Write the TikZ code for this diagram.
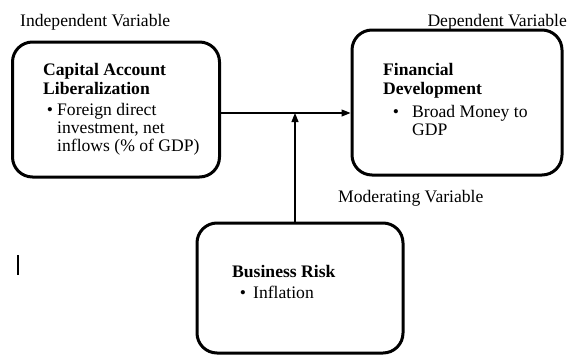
\documentclass[tikz,border=0pt]{standalone}
\usepackage{fontspec}
\setmainfont{Liberation Serif}
\usetikzlibrary{arrows.meta}
\begin{document}
\begin{tikzpicture}[x=1pt,y=-1pt,
  box/.style={draw,line width=3pt,rounded corners=20pt,inner sep=0pt},
  txt/.style={anchor=base west,inner sep=0pt,font=\fontsize{17.6}{18}\selectfont},
  btxt/.style={txt,font=\fontsize{17.6}{18}\selectfont\bfseries},
  bul/.style={anchor=base,inner sep=0pt,font=\fontsize{17.6}{18}\selectfont},
  conn/.style={line width=1.1pt,-{Triangle[length=9pt,width=7pt]}}]
\useasboundingbox (0,0) rectangle (569,356);
\node[box,minimum width=207pt,minimum height=135pt] (b1) at (116,109.5) {};
\node[box,minimum width=210pt,minimum height=145pt] (b2) at (457,102.5) {};
\node[box,minimum width=206pt,minimum height=130pt] (b3) at (300,288) {};
\coordinate (j) at (295,113);
\draw[conn] (b1.east |- j) -- (b2.west |- j);
\draw[conn] (b3.north -| j) -- (j);
\node[txt] (l1) at (20,26) {Independent Variable};
\node[txt,anchor=base east] (l2) at (567,26) {Dependent Variable};
\node[txt] (l3) at (338,202) {Moderating Variable};
\node[btxt] (c1) at (43,75) {Capital Account};
\node[btxt] (c2) at (43,94) {Liberalization};
\node[bul] (c3b) at (50,115) {\textbullet};
\node[txt] (c3) at (57,115) {Foreign direct};
\node[txt] (c4) at (57,133) {investment, net};
\node[txt] (c5) at (57,151) {inflows (\% of GDP)};
\node[btxt] (f1) at (383,75) {Financial};
\node[btxt] (f2) at (383,94) {Development};
\node[bul] (f3b) at (396,117) {\textbullet};
\node[txt] (f3) at (412,117) {Broad Money to};
\node[txt] (f4) at (412,135) {GDP};
\node[btxt] (r1) at (232,277) {Business Risk};
\node[bul] (r2b) at (243,298) {\textbullet};
\node[txt] (r2) at (253,298) {Inflation};
\draw[line width=1.6pt] (18,255) -- (18,275);
\end{tikzpicture}
\end{document}
